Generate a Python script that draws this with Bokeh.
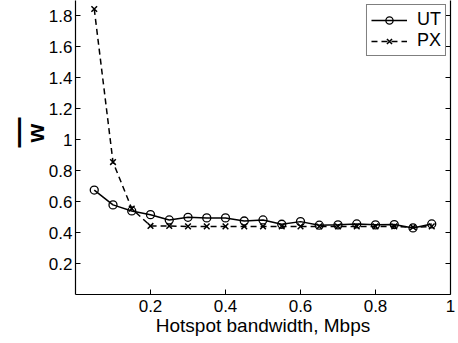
from bokeh.plotting import figure
from bokeh.models import LinearAxis, FixedTicker, Legend, LegendItem, Title
from bokeh.embed import file_html
from bokeh.resources import INLINE

bandwidth = [0.05, 0.10, 0.15, 0.20, 0.25, 0.30, 0.35, 0.40, 0.45, 0.50,
             0.55, 0.60, 0.65, 0.70, 0.75, 0.80, 0.85, 0.90, 0.95]
ut = [0.675, 0.579, 0.540, 0.516, 0.482, 0.499, 0.495, 0.495, 0.475, 0.482,
      0.454, 0.471, 0.448, 0.450, 0.456, 0.450, 0.452, 0.430, 0.456]
px = [1.845, 0.856, 0.555, 0.443, 0.443, 0.440, 0.440, 0.440, 0.440, 0.440,
      0.440, 0.440, 0.440, 0.440, 0.440, 0.440, 0.440, 0.435, 0.440]

x_ticks = [0.2, 0.4, 0.6, 0.8, 1.0]
x_tick_labels = ["0.2", "0.4", "0.6", "0.8", "1"]
y_ticks = [0.2, 0.4, 0.6, 0.8, 1.0, 1.2, 1.4, 1.6, 1.8]
y_tick_labels = ["0.2", "0.4", "0.6", "0.8", "1", "1.2", "1.4", "1.6", "1.8"]

FONT = "Liberation Sans"

p = figure(width=458, height=343, x_range=(0, 1), y_range=(0, 1.9),
           output_backend="svg", toolbar_location=None,
           min_border_left=75, min_border_right=8, min_border_bottom=49,
           min_border_top=0)
p.outline_line_color = None
p.xgrid.visible = False
p.ygrid.visible = False
p.background_fill_color = "white"

def style_axis(ax, ticks, labels):
    ax.ticker = FixedTicker(ticks=ticks)
    ax.major_label_overrides = {t: l for t, l in zip(ticks, labels)}
    ax.minor_tick_line_color = None
    ax.major_tick_in = 5
    ax.major_tick_out = 0
    ax.axis_line_color = "black"
    ax.axis_line_width = 1.2
    ax.major_tick_line_color = "black"
    ax.major_label_text_font = FONT
    ax.major_label_text_font_size = "17px"
    ax.major_label_text_color = "black"

style_axis(p.xaxis[0], x_ticks, x_tick_labels)
style_axis(p.yaxis[0], y_ticks, y_tick_labels)
p.xaxis[0].major_label_standoff = 5
p.yaxis[0].major_label_standoff = 3
p.xaxis[0].axis_label = "Hotspot bandwidth, Mbps"
p.xaxis[0].axis_label_text_font = FONT
p.xaxis[0].axis_label_text_font_size = "19px"
p.xaxis[0].axis_label_text_font_style = "normal"
p.xaxis[0].axis_label_text_color = "black"
p.xaxis[0].axis_label_standoff = 0

right = LinearAxis(ticker=FixedTicker(ticks=y_ticks))
right.major_label_overrides = {t: "" for t in y_ticks}
right.major_label_standoff = 0
right.major_tick_in = 5
right.major_tick_out = 0
right.minor_tick_line_color = None
right.axis_line_color = "black"
right.axis_line_width = 1.2
p.add_layout(right, "right")

ut_line = p.line(bandwidth, ut, line_color="black", line_width=1.5)
ut_mark = p.scatter(bandwidth, ut, marker="circle", size=8, fill_color=None,
                    line_color="black", line_width=1.3)
px_line = p.line(bandwidth, px, line_color="black", line_width=1.5,
                 line_dash="6 4")
px_mark = p.scatter(bandwidth, px, marker="x", size=8,
                    line_color="black", line_width=1.5)

legend = Legend(items=[LegendItem(label="UT", renderers=[ut_line, ut_mark]),
                       LegendItem(label="PX", renderers=[px_line, px_mark])],
                location="top_right")
legend.label_text_font = FONT
legend.label_text_font_size = "18px"
legend.label_text_color = "black"
legend.border_line_color = "black"
legend.border_line_width = 1
legend.glyph_width = 36
legend.glyph_height = 18
legend.label_height = 18
legend.label_standoff = 10
legend.spacing = 0
legend.padding = 4
legend.margin = 4
legend.background_fill_alpha = 1
p.add_layout(legend)

# y axis label: bold w with an overline bar
p.add_layout(Title(text="w", align="left", offset=152, standoff=-7,
                   text_font=FONT, text_font_size="24px",
                   text_font_style="bold", text_color="black"), "left")
p.add_layout(Title(text="\u2014", align="left", offset=147, standoff=-20,
                   text_font=FONT, text_font_size="30px",
                   text_font_style="bold", text_color="black"), "left")

open("out.html", "w").write(file_html(p, INLINE))
